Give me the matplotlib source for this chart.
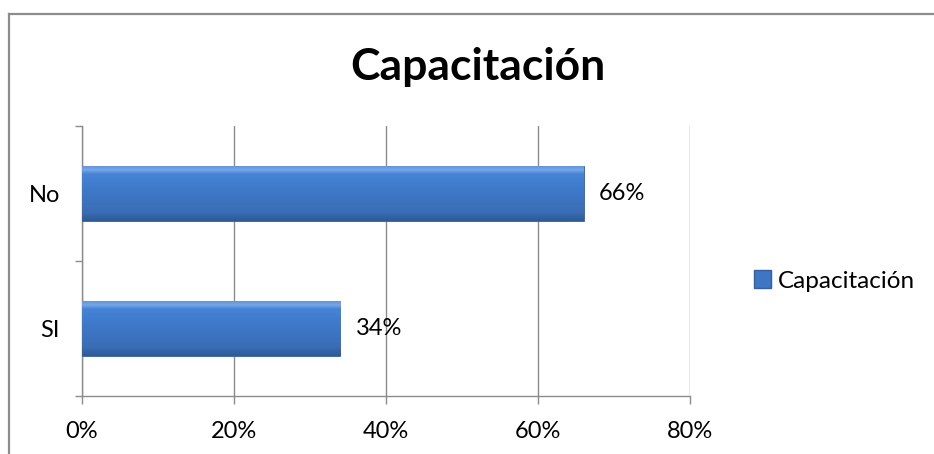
import matplotlib
matplotlib.use("Agg")
import matplotlib.pyplot as plt
import numpy as np
from matplotlib.lines import Line2D
from matplotlib.patches import Patch
from matplotlib.colors import LinearSegmentedColormap

categories = ["SI", "No"]
values = [34, 66]
value_labels = ["34%", "66%"]
xticks = [0, 20, 40, 60, 80]
xtick_labels = ["0%", "20%", "40%", "60%", "80%"]
title = "Capacitación"
series_name = "Capacitación"

plt.rcParams['font.family'] = ['Lato', 'DejaVu Sans']

W, H = 934, 454
fig = plt.figure(figsize=(W / 100, H / 100), dpi=100)
fig.patch.set_facecolor("white")

# outer chart frame (left and top visible)
frame_col = "#8c8c8c"
fig.add_artist(Line2D([9 / W, 9 / W], [0, 1 - 14 / H], transform=fig.transFigure, color=frame_col, lw=1.6))
fig.add_artist(Line2D([9 / W, 1], [1 - 14 / H, 1 - 14 / H], transform=fig.transFigure, color=frame_col, lw=1.6))

ax = fig.add_axes([82 / W, 1 - 396 / H, (690 - 82) / W, (396 - 126) / H])

bar_col = "#3d76c4"
edge_col = "#34609f"
cmap = LinearSegmentedColormap.from_list(
    "bargrad", [(0.0, "#2f5a98"), (0.15, "#3a6db5"), (0.6, "#3f7acb"), (0.85, "#4784d6"), (0.92, "#76a6e6"), (1.0, "#5d92dc")])
ypos = list(range(len(categories)))
bars = ax.barh(ypos, values, height=0.41, color=bar_col, edgecolor=edge_col, linewidth=0.6, zorder=3)
grad = np.linspace(0, 1, 64).reshape(-1, 1)
for b in bars:
    x0, y0, w, h = b.get_x(), b.get_y(), b.get_width(), b.get_height()
    im = ax.imshow(grad, cmap=cmap, extent=[x0, x0 + w, y0, y0 + h], origin="lower",
                   aspect="auto", zorder=3.5, interpolation="bilinear")
    im.set_clip_path(b)

for y, v, lab in zip(ypos, values, value_labels):
    ax.text(v + 2.0, y, lab, va="center", ha="left", fontsize=17, color="black", zorder=4)

ax.set_xlim(0, 80)
ax.set_ylim(-0.5, 1.5)
ax.set_xticks(xticks)
ax.set_xticklabels(xtick_labels, fontsize=17)
ax.set_yticks(ypos)
ax.set_yticklabels(categories, fontsize=17)
ax.set_yticks([-0.5, 0.5, 1.5], minor=True)

grid_col = "#8c8c8c"
ax.xaxis.grid(True, color=grid_col, lw=1.0, zorder=0)
ax.set_axisbelow(True)
for s in ["top", "right"]:
    ax.spines[s].set_visible(False)
for s in ["left", "bottom"]:
    ax.spines[s].set_color(grid_col)
    ax.spines[s].set_linewidth(1.0)

ax.tick_params(axis="y", which="major", length=0, pad=16)
ax.tick_params(axis="y", which="minor", length=5, color=grid_col, width=1.0, direction="out")
ax.tick_params(axis="x", which="major", length=6, color=grid_col, width=1.0, pad=12)

fig.text(478 / W, 1 - 80 / H, title, ha="center", va="baseline", fontsize=32, fontweight="bold")

handle = Patch(facecolor=bar_col, edgecolor=edge_col)
fig.legend([handle], [series_name], loc="center left", bbox_to_anchor=(754 / W, 1 - 281 / H),
           frameon=False, fontsize=17.5, handlelength=0.7, handleheight=0.7, handletextpad=0.3,
           borderaxespad=0, borderpad=0)

fig.savefig("out.png", dpi=100, facecolor="white")
